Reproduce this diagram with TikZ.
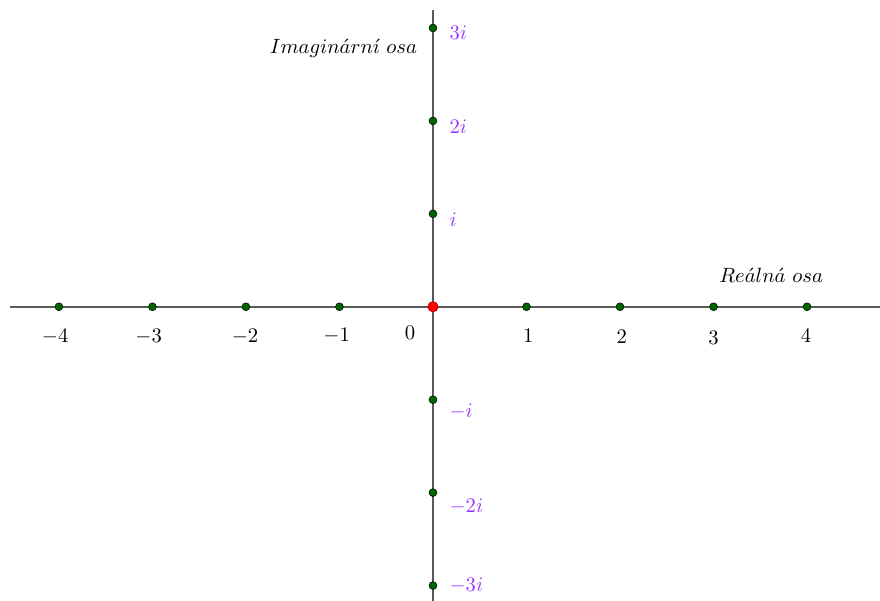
\documentclass[tikz,border=0pt]{standalone}
\usepackage{amsmath,amssymb}
\usepackage{tikz}
\usetikzlibrary{positioning}
\definecolor{OsaGray}{HTML}{5A5A5A}
\definecolor{BodGreen}{HTML}{006400}
\definecolor{PopisPurple}{HTML}{9933FF}

\tikzset{
  osa/.style={OsaGray, line width=1pt},
  bod/.style={circle, fill=BodGreen, draw=black!80!BodGreen, line width=0.3pt, inner sep=0pt, minimum size=3.8pt},
  pocatek/.style={circle, fill=red, draw=red!70!black, line width=0.3pt, inner sep=0pt, minimum size=5pt},
  realny/.style={font=\normalsize, black},
  imag/.style={font=\normalsize, PopisPurple, anchor=west}
}

\begin{document}
\begin{tikzpicture}[x=1.59cm, y=1.58cm]
\useasboundingbox (-4.63, -3.161) rectangle (4.78, 3.301);

% Draw axes
\coordinate (xl) at (-4.52, 0);
\coordinate (xr) at (4.78, 0);
\coordinate (yt) at (0, 3.19);
\coordinate (yb) at (0, -3.161);
\draw[osa] (xl) -- (xr);
\draw[osa] (yb) -- (yt);

% Axis names
\node[anchor=center] (realosa) at (3.617, 0.333) {$Re\acute{a}ln\acute{a}\ osa$};
\node[anchor=center] (imosa) at (-0.957, 2.785) {$Imagin\acute{a}rn\acute{\imath}\ osa$};

% Points on the real axis
\node[bod] (rm4) at (-4, 0) {};
\node[bod] (rm3) at (-3, 0) {};
\node[bod] (rm2) at (-2, 0) {};
\node[bod] (rm1) at (-1, 0) {};
\node[bod] (r1) at (1, 0) {};
\node[bod] (r2) at (2, 0) {};
\node[bod] (r3) at (3, 0) {};
\node[bod] (r4) at (4, 0) {};

% Points on the imaginary axis
\node[bod] (i3) at (0, 3) {};
\node[bod] (i2) at (0, 2) {};
\node[bod] (i1) at (0, 1) {};
\node[bod] (im1) at (0, -1) {};
\node[bod] (im2) at (0, -2) {};
\node[bod] (im3) at (0, -3) {};

% Origin
\node[pocatek] (o) at (0, 0) {};

% Real labels
\node[realny] (lm4) at (-4.04, -0.32) {$-4$};
\node[realny] (lm3) at (-3.04, -0.32) {$-3$};
\node[realny] (lm2) at (-2.01, -0.32) {$-2$};
\node[realny] (lm1) at (-1.03, -0.31) {$-1$};
\node[realny] (l0) at (-0.245, -0.28) {$0$};
\node[realny] (l1) at (1.02, -0.31) {$1$};
\node[realny] (l2) at (2.02, -0.32) {$2$};
\node[realny] (l3) at (3.0, -0.33) {$3$};
\node[realny] (l4) at (3.99, -0.31) {$4$};

% Imaginary labels
\node[imag] (li3) at (0.10, 2.946) {$3i$};
\node[imag] (li2) at (0.10, 1.935) {$2i$};
\node[imag] (li1) at (0.10, 0.935) {$i$};
\node[imag] (lim1) at (0.10, -1.129) {$-i$};
\node[imag] (lim2) at (0.10, -2.15) {$-2i$};
\node[imag] (lim3) at (0.10, -3.0) {$-3i$};
\end{tikzpicture}
\end{document}
